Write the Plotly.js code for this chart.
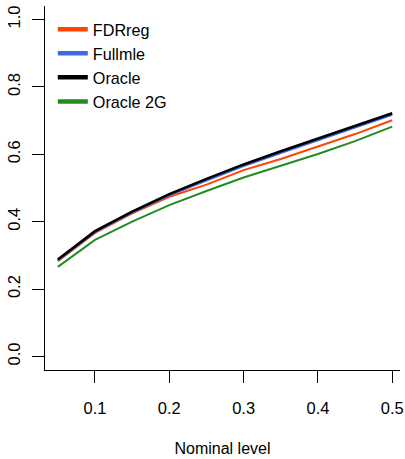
<!DOCTYPE html>
<html>
<head>
<meta charset="utf-8">
<script src="https://cdn.plot.ly/plotly-3.0.1.min.js"></script>
<style>html,body{margin:0;padding:0;background:#fff;}#chart{width:405px;height:459px;}</style>
</head>
<body>
<div id="chart"></div>
<script>
const nominal = [0.05, 0.10, 0.15, 0.20, 0.25, 0.30, 0.35, 0.40, 0.45, 0.50];
const fdrreg   = [0.283, 0.367, 0.425, 0.474, 0.510, 0.553, 0.586, 0.624, 0.660, 0.701];
const fullmle  = [0.285, 0.369, 0.427, 0.478, 0.522, 0.565, 0.604, 0.641, 0.679, 0.717];
const oracle   = [0.288, 0.372, 0.430, 0.482, 0.527, 0.570, 0.609, 0.646, 0.683, 0.722];
const oracle2g = [0.266, 0.346, 0.400, 0.449, 0.491, 0.531, 0.566, 0.601, 0.639, 0.682];
const seriesNames = ["FDRreg", "Fullmle", "Oracle", "Oracle 2G"];
const seriesColors = ["#FF4500", "#4169E1", "#000000", "#228B22"];
const xTicks = [0.1, 0.2, 0.3, 0.4, 0.5];
const yTicks = [0.0, 0.2, 0.4, 0.6, 0.8, 1.0];
const xLabel = "Nominal level";

const font = "Liberation Sans, Arial, Helvetica, sans-serif";
const seriesData = [fdrreg, fullmle, oracle, oracle2g];
const widths = [2, 2, 2.6, 2];
const traces = [];
seriesData.forEach((ys, i) => {
  traces.push({x: nominal, y: ys, type: 'scatter', mode: 'lines', name: seriesNames[i],
    line: {color: seriesColors[i], width: widths[i]}, showlegend: false, hoverinfo: 'skip'});
});
seriesNames.forEach((n, i) => {
  traces.push({x: [null], y: [null], type: 'scatter', mode: 'lines', name: n,
    line: {color: seriesColors[i], width: 4.5}, showlegend: true});
});

const layout = {
  width: 405, height: 459,
  margin: {l: 45, r: 5, t: 6, b: 89},
  paper_bgcolor: '#fff', plot_bgcolor: '#fff',
  font: {family: font, size: 16.5, color: '#000'},
  showlegend: true,
  legend: {x: 0.022, y: 0.983, xanchor: 'left', yanchor: 'top', bgcolor: 'rgba(0,0,0,0)',
    borderwidth: 0, font: {family: font, size: 16.2, color: '#000'}, traceorder: 'normal'},
  xaxis: {
    range: [0.03273, 0.51044], tickmode: 'array', tickvals: xTicks,
    ticktext: xTicks.map(v => v.toFixed(1)),
    showgrid: false, zeroline: false, showline: true, linecolor: '#000', linewidth: 1,
    ticks: 'outside', ticklen: 12, tickcolor: '#000', tickwidth: 1,
    ticklabelstandoff: 11,
    tickfont: {family: font, size: 16.5, color: '#000'},
    title: {text: xLabel, font: {family: font, size: 16, color: '#000'}, standoff: 27}
  },
  yaxis: {
    range: [-0.04, 1.04], tickmode: 'array', tickvals: yTicks,
    ticktext: yTicks.map(v => v.toFixed(1)),
    showgrid: false, zeroline: false, showline: true, linecolor: '#000', linewidth: 1,
    ticks: 'outside', ticklen: 12, tickcolor: '#000', tickwidth: 1,
    tickangle: -90, ticklabelstandoff: 5,
    tickfont: {family: font, size: 16.5, color: '#000'}
  }
};
Plotly.newPlot('chart', traces, layout, {staticPlot: true, displayModeBar: false});
</script>
</body>
</html>
